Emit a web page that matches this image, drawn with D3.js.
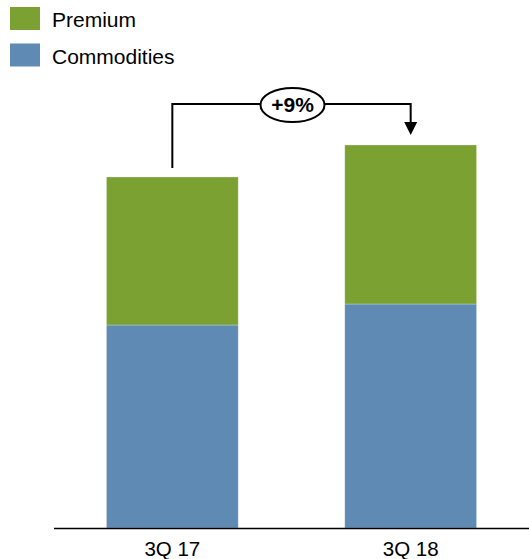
<!DOCTYPE html>
<html>
<head>
<meta charset="utf-8">
<script src="https://cdn.jsdelivr.net/npm/d3@7"></script>
<style>
  html, body { margin: 0; padding: 0; background: #fff; }
  svg { display: block; font-family: "Liberation Sans", Arial, sans-serif; }
</style>
</head>
<body>
<svg id="chart" width="529" height="559"></svg>
<script>
// Quarterly volumes, split into commodity and premium parts
const quarters = ["3Q 17", "3Q 18"];
const commodities = [203, 224];
const premium = [148, 159];
const seriesNames = ["Premium", "Commodities"];
const seriesColors = ["#7aa132", "#5e8ab4"];
const growthLabel = "+9%";

const svg = d3.select("#chart");

const baseY = 528;
const x = d3.scaleBand()
  .domain(quarters)
  .range([54, 529])
  .paddingInner(0.447)
  .paddingOuter(0.22);

const y = d3.scaleLinear()
  .domain([0, 400])
  .range([baseY, baseY - 400]);

const rows = quarters.map((q, i) => ({ quarter: q, Commodities: commodities[i], Premium: premium[i] }));
const stack = d3.stack().keys(["Commodities", "Premium"]);
const layers = stack(rows);
const color = d3.scaleOrdinal().domain(seriesNames).range(seriesColors);

// Stacked bars
svg.append("g").selectAll("g")
  .data(layers)
  .join("g")
  .attr("fill", d => color(d.key))
  .selectAll("rect")
  .data(d => d)
  .join("rect")
  .attr("x", d => x(d.data.quarter))
  .attr("y", d => y(d[1]))
  .attr("width", x.bandwidth())
  .attr("height", d => y(d[0]) - y(d[1]))
  .attr("stroke", "#ffffff")
  .attr("stroke-opacity", 0.35)
  .attr("stroke-width", 0.8);

// Baseline
svg.append("line")
  .attr("x1", 54).attr("x2", 529)
  .attr("y1", baseY + 0.5).attr("y2", baseY + 0.5)
  .attr("stroke", "#000").attr("stroke-width", 1.5);

// Category labels
const xAxis = d3.axisBottom(x).tickSize(0).tickPadding(0);
const axisG = svg.append("g")
  .attr("transform", `translate(0,${baseY})`)
  .call(xAxis);
axisG.select(".domain").remove();
axisG.selectAll("text")
  .attr("dy", null)
  .attr("y", 28)
  .attr("font-size", 20.5)
  .attr("font-family", "'Liberation Sans', Arial, sans-serif")
  .attr("fill", "#000");

// Legend
const legend = svg.append("g");
seriesNames.forEach((name, i) => {
  const g = legend.append("g").attr("transform", `translate(10,${7 + i * 36.5})`);
  g.append("rect").attr("width", 30).attr("height", 23).attr("fill", color(name));
  g.append("text").attr("x", 42).attr("y", 20)
    .attr("font-size", 21).attr("fill", "#000").text(name);
});

// Growth bracket from first to second bar
const totals = rows.map(r => r.Commodities + r.Premium);
const cx0 = x(quarters[0]) + x.bandwidth() / 2;
const cx1 = x(quarters[1]) + x.bandwidth() / 2;
const topY = 104;
const startY = y(totals[0]) - 9;
const tipY = y(totals[1]) - 10;

svg.append("path")
  .attr("d", `M${cx0},${startY}V${topY}H${cx1}V${tipY - 13}`)
  .attr("fill", "none").attr("stroke", "#000").attr("stroke-width", 2);
svg.append("path")
  .attr("d", `M${cx1 - 6.5},${tipY - 13}L${cx1 + 6.5},${tipY - 13}L${cx1},${tipY}Z`)
  .attr("fill", "#000");

const ex = 292.5, ey = 105;
svg.append("ellipse")
  .attr("cx", ex).attr("cy", ey)
  .attr("rx", 32).attr("ry", 17)
  .attr("fill", "#fff").attr("stroke", "#000").attr("stroke-width", 2);
svg.append("text")
  .attr("x", ex).attr("y", ey + 7)
  .attr("text-anchor", "middle")
  .attr("font-size", 21).attr("font-weight", "bold")
  .attr("fill", "#000")
  .text(growthLabel);
</script>
</body>
</html>
